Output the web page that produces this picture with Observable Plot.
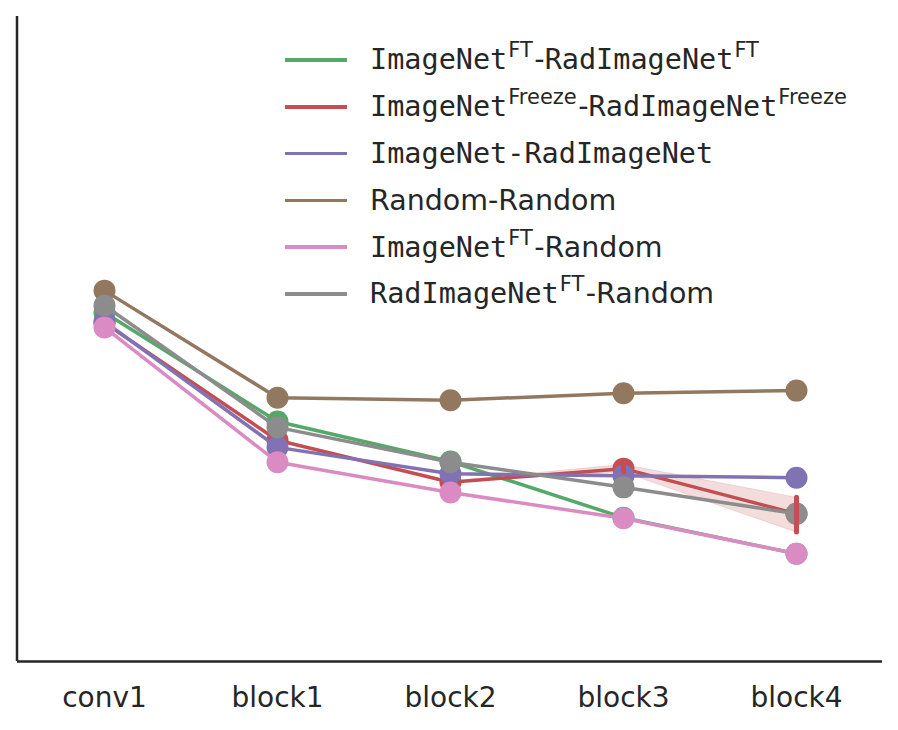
<!DOCTYPE html>
<html>
<head>
<meta charset="utf-8">
<script src="https://cdn.jsdelivr.net/npm/d3@7"></script>
<script src="https://cdn.jsdelivr.net/npm/@observablehq/plot@0.6"></script>
<style>
  body { margin: 0; background: #fff; }
  #wrap { position: relative; width: 898px; height: 730px; }
  #legend { position: absolute; left: 285px; top: 36.6px; color: #262626; }
  .row { display: flex; align-items: center; height: 46.8px; white-space: nowrap; }
  .sw { width: 62px; height: 3.5px; margin-right: 23px; }
  .mono { font-family: "DejaVu Sans Mono", monospace; font-size: 28.5px; }
  .sans { font-family: "DejaVu Sans", sans-serif; font-size: 28.5px; }
  .sup { font-family: "DejaVu Sans", sans-serif; font-size: 21px; position: relative; top: -12px; margin-left: 1px; margin-right: 1.5px; }
</style>
</head>
<body>
<div id="wrap"><div id="chart"></div><div id="legend"></div></div>
<script>
const layers = ["conv1", "block1", "block2", "block3", "block4"];
const seriesNames = [
  "ImageNetFT-RadImageNetFT",
  "ImageNetFreeze-RadImageNetFreeze",
  "ImageNet-RadImageNet",
  "Random-Random",
  "ImageNetFT-Random",
  "RadImageNetFT-Random"
];
const colors = ["#55A868", "#C44E52", "#8172B3", "#937860", "#DA8BC3", "#8C8C8C"];
// similarity values per layer (conv1..block4)
const greenVals  = [0.541, 0.372, 0.310, 0.223, 0.167];
const redVals    = [0.525, 0.343, 0.278, 0.299, 0.229];
const purpleVals = [0.527, 0.332, 0.291, 0.288, 0.285];
const brownVals  = [0.575, 0.409, 0.405, 0.416, 0.420];
const pinkVals   = [0.518, 0.309, 0.262, 0.222, 0.167];
const grayVals   = [0.552, 0.363, 0.309, 0.270, 0.229];
// confidence interval for the red series
const redLo = [0.524, 0.342, 0.277, 0.293, 0.200];
const redHi = [0.526, 0.344, 0.279, 0.305, 0.254];

const allVals = [greenVals, redVals, purpleVals, brownVals, pinkVals, grayVals];

// legend label segments: [text, kind]
const legendLabels = [
  [["ImageNet", "mono"], ["FT", "sup"], ["-", "sans"], ["RadImageNet", "mono"], ["FT", "sup"]],
  [["ImageNet", "mono"], ["Freeze", "sup"], ["-", "sans"], ["RadImageNet", "mono"], ["Freeze", "sup"]],
  [["ImageNet-RadImageNet", "mono"]],
  [["Random-Random", "sans"]],
  [["ImageNet", "mono"], ["FT", "sup"], ["-Random", "sans"]],
  [["RadImageNet", "mono"], ["FT", "sup"], ["-Random", "sans"]]
];

const marks = [];
allVals.forEach((vals, i) => {
  const rows = layers.map((l, j) => ({layer: l, v: vals[j]}));
  marks.push(Plot.line(rows, {x: "layer", y: "v", stroke: colors[i], strokeWidth: 3.5}));
  if (i === 1) {
    const band = layers.map((l, j) => ({layer: l, lo: redLo[j], hi: redHi[j]}));
    marks.push(Plot.areaY(band, {x: "layer", y1: "lo", y2: "hi", fill: colors[1], fillOpacity: 0.2, stroke: colors[1], strokeOpacity: 0.15, strokeWidth: 1}));
  }
  marks.push(Plot.dot(rows, {x: "layer", y: "v", r: 11, fill: colors[i], stroke: "none"}));
});
const bars = layers.map((l, j) => ({layer: l, lo: redLo[j], hi: redHi[j]})).filter(d => d.hi - d.lo > 0.005);
marks.push(Plot.ruleX(bars, {x: "layer", y1: "lo", y2: "hi", stroke: colors[1], strokeWidth: 5, strokeLinecap: "round"}));
marks.push(Plot.ruleY([0], {stroke: "#262626", strokeWidth: 2.5}));
marks.push(Plot.axisX({tickSize: 0, tickPadding: 26, fontSize: 28, fill: "#262626"}));

const chart = Plot.plot({
  width: 898,
  height: 730,
  marginLeft: 17,
  marginRight: 16,
  marginTop: 16,
  marginBottom: 69,
  x: {type: "point", domain: layers, padding: 0.5, label: null},
  y: {domain: [0, 1], axis: null},
  style: {fontFamily: "DejaVu Sans, sans-serif", color: "#262626", background: "#fff", overflow: "visible"},
  marks
});
// left spine
d3.select(chart).append("line")
  .attr("x1", 17).attr("x2", 17).attr("y1", 16).attr("y2", 661)
  .attr("stroke", "#262626").attr("stroke-width", 2.5);
document.getElementById("chart").appendChild(chart);

const legend = d3.select("#legend");
legendLabels.forEach((segs, i) => {
  const row = legend.append("div").attr("class", "row");
  row.append("div").attr("class", "sw").style("background", colors[i]);
  const t = row.append("div");
  segs.forEach(([txt, kind]) => t.append("span").attr("class", kind).text(txt));
});
</script>
</body>
</html>
